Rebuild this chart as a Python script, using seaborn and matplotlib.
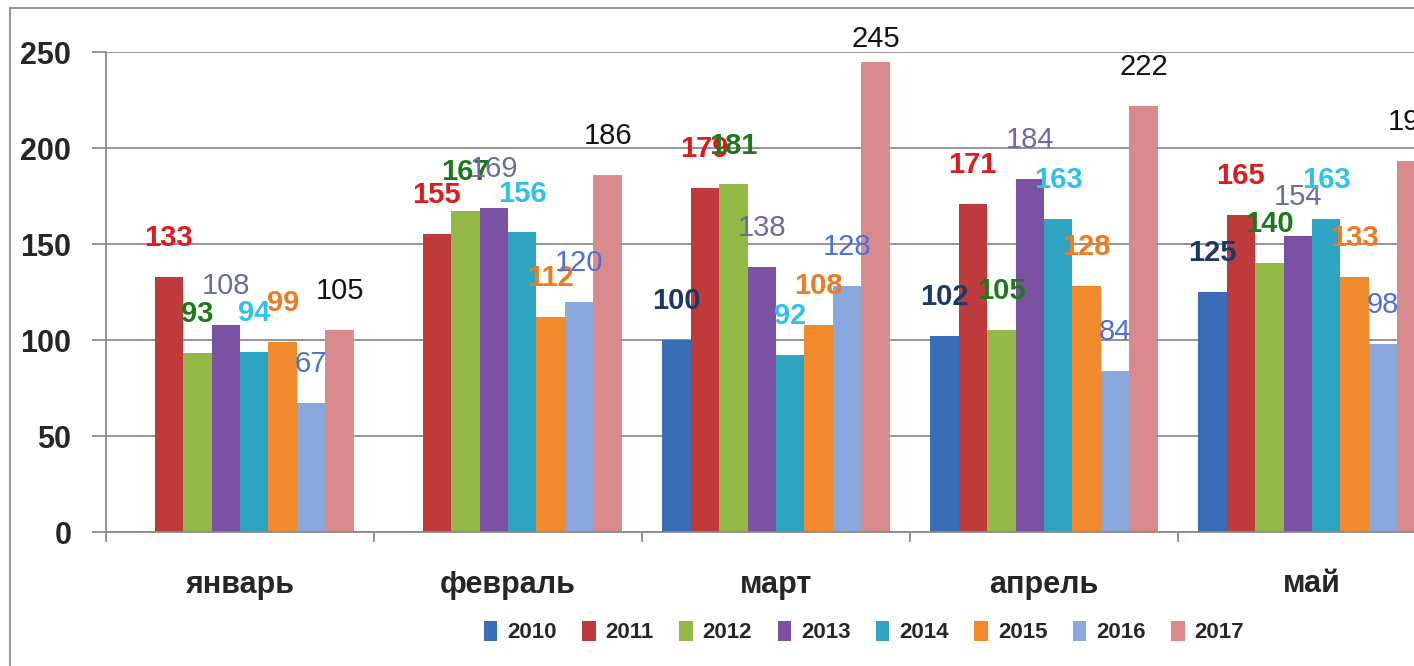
import numpy as np
import pandas as pd
import matplotlib
matplotlib.use("Agg")
import matplotlib.pyplot as plt
from matplotlib.patches import Rectangle, Patch
import seaborn as sns

months = ["январь", "февраль", "март", "апрель", "май"]
years = ["2010", "2011", "2012", "2013", "2014", "2015", "2016", "2017"]
v2010 = [np.nan, np.nan, 100, 102, 125]
v2011 = [133, 155, 179, 171, 165]
v2012 = [93, 167, 181, 105, 140]
v2013 = [108, 169, 138, 184, 154]
v2014 = [94, 156, 92, 163, 163]
v2015 = [99, 112, 108, 128, 133]
v2016 = [67, 120, 128, 84, 98]
v2017 = [105, 186, 245, 222, 193]
yticks = [0, 50, 100, 150, 200, 250]

bar_colors = ["#3A6DB5", "#BF3B3B", "#93B848", "#7B52A3", "#2FA3C2", "#F08A2C", "#8AA8DC", "#D98A8C"]
label_colors = ["#1B3866", "#E0191C", "#1C7A1C", "#6B6BA8", "#2EC2EA", "#EE7B22", "#4D6FD9", "#111111"]
label_weights = ["bold", "bold", "bold", "normal", "bold", "bold", "normal", "normal"]

series = [v2010, v2011, v2012, v2013, v2014, v2015, v2016, v2017]
rows = []
for y, vals in zip(years, series):
    for m, v in zip(months, vals):
        rows.append({"month": m, "year": y, "value": v})
df = pd.DataFrame(rows)

sns.set_style("white")
plt.rcParams["font.family"] = ["Liberation Sans", "DejaVu Sans"]

W, H = 1414, 666
fig = plt.figure(figsize=(W / 100, H / 100), dpi=100)
ax = fig.add_axes([106 / W, (H - 532) / H, 1340 / W, 480 / H])

sns.barplot(data=df, x="month", y="value", hue="year", order=months, hue_order=years,
            palette=bar_colors, width=0.85, ax=ax, legend=False, saturation=1,
            edgecolor="none", linewidth=0)

ax.set_ylim(0, 250)
ax.set_xlim(-0.5, 4.5)
ax.set_yticks(yticks)
ax.set_yticklabels([str(t) for t in yticks], fontsize=22, fontweight="bold")
ax.yaxis.grid(True, color="#8a8a8a", linewidth=1.3)
ax.set_axisbelow(True)
ax.tick_params(axis="y", length=10, color="#8a8a8a", width=1.3, pad=15, left=True)
ax.set_xticks(range(len(months)))
ax.set_xticklabels(months, fontsize=22, fontweight="bold")
ax.tick_params(axis="x", length=0, pad=27)
ax.set_xticks(np.arange(-0.5, 5.0, 1.0), minor=True)
ax.tick_params(axis="x", which="minor", length=7, color="#8a8a8a", width=1.3, bottom=True)
ax.set_xlabel("")
ax.set_ylabel("")
for s in ["top", "right"]:
    ax.spines[s].set_visible(False)
ax.spines["left"].set_color("#8a8a8a")
ax.spines["left"].set_linewidth(1.3)
ax.spines["bottom"].set_color("#8a8a8a")
ax.spines["bottom"].set_linewidth(1.3)

for ci, cont in enumerate(ax.containers):
    for bar in cont:
        h = bar.get_height()
        if not np.isfinite(h) or h <= 0:
            continue
        xc = bar.get_x() + bar.get_width() / 2
        ax.text(xc, min(h + 20.3, 257), f"{int(round(h))}", ha="center", va="center",
                fontsize=21, color=label_colors[ci], fontweight=label_weights[ci],
                clip_on=False)

handles = [Patch(facecolor=c, edgecolor="none") for c in bar_colors]
fig.legend(handles, years, loc="center", bbox_to_anchor=(864 / W, 1 - 632 / H),
           ncol=8, frameon=False, handlelength=0.6, handleheight=1.0,
           handletextpad=0.45, columnspacing=1.15,
           prop={"size": 16, "weight": "bold"})

fig.add_artist(Rectangle((10 / W, -0.05), 1.2, 1 - 8 / H + 0.05, transform=fig.transFigure,
                         fill=False, edgecolor="#9a9a9a", linewidth=1.5))

fig.savefig("out.png", dpi=100, facecolor="white")
